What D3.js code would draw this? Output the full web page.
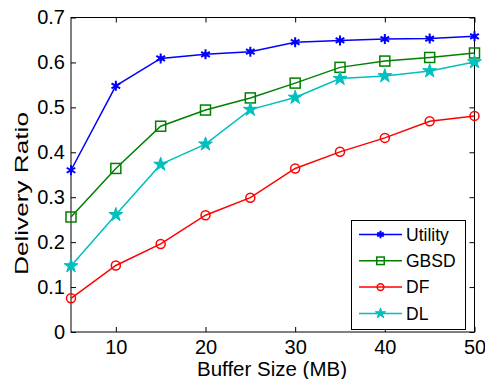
<!DOCTYPE html>
<html>
<head>
<meta charset="utf-8">
<script src="https://cdn.jsdelivr.net/npm/d3@7"></script>
<style>
  body { margin: 0; background: #fff; }
  svg { display: block; font-family: "Liberation Sans", Arial, sans-serif; }
</style>
</head>
<body>
<div id="chart"></div>
<script>
const bufferSizes = [5, 10, 15, 20, 25, 30, 35, 40, 45, 50];
const utility = [0.360, 0.548, 0.609, 0.618, 0.624, 0.645, 0.649, 0.652, 0.653, 0.658];
const gbsd    = [0.256, 0.364, 0.458, 0.494, 0.521, 0.554, 0.589, 0.603, 0.611, 0.621];
const df      = [0.075, 0.148, 0.196, 0.260, 0.299, 0.364, 0.401, 0.432, 0.469, 0.481];
const dl      = [0.147, 0.261, 0.373, 0.418, 0.495, 0.522, 0.564, 0.570, 0.581, 0.601];
const xTicks = [10, 20, 30, 40, 50];
const yTicks = [0, 0.1, 0.2, 0.3, 0.4, 0.5, 0.6, 0.7];

const series = [
  { name: 'Utility', values: utility, color: '#0000ff', marker: 'asterisk' },
  { name: 'GBSD', values: gbsd, color: '#008000', marker: 'square' },
  { name: 'DF', values: df, color: '#ff0000', marker: 'circle' },
  { name: 'DL', values: dl, color: '#00bfbf', marker: 'star' }
];

const width = 485, height = 379;
const margin = { top: 17.5, right: 10.5, bottom: 47, left: 71 };

const svg = d3.select('#chart').append('svg')
  .attr('width', width)
  .attr('height', height);

let x = d3.scaleLinear().domain([5, 50]).range([margin.left, width - margin.right]);
let y = d3.scaleLinear().domain([0, 0.7]).range([height - margin.bottom, margin.top]);

const x0 = x.range()[0], x1 = x.range()[1];
const y0 = y.range()[0], y1 = y.range()[1];

// axes, ticks pointing inwards, box on
svg.append('g')
  .attr('transform', `translate(0,${y0})`)
  .call(d3.axisBottom(x).tickValues(xTicks).tickSizeInner(-5).tickSizeOuter(0).tickPadding(8).tickFormat(d3.format('d')))
  .call(g => g.select('.domain').remove())
  .call(g => g.selectAll('text').attr('font-size', 20).attr('fill', '#000'));

svg.append('g')
  .attr('transform', `translate(0,${y1})`)
  .call(d3.axisTop(x).tickValues(xTicks).tickSizeInner(-5).tickSizeOuter(0).tickFormat(''))
  .call(g => g.select('.domain').remove());

svg.append('g')
  .attr('transform', `translate(${x0},0)`)
  .call(d3.axisLeft(y).tickValues(yTicks).tickSizeInner(-5).tickSizeOuter(0).tickPadding(6)
    .tickFormat(d => d === 0 ? '0' : d3.format('.1f')(d)))
  .call(g => g.select('.domain').remove())
  .call(g => g.selectAll('text').attr('font-size', 20).attr('fill', '#000'));

svg.append('g')
  .attr('transform', `translate(${x1},0)`)
  .call(d3.axisRight(y).tickValues(yTicks).tickSizeInner(-5).tickSizeOuter(0).tickFormat(''))
  .call(g => g.select('.domain').remove());

svg.append('rect')
  .attr('x', x0).attr('y', y1)
  .attr('width', x1 - x0).attr('height', y0 - y1)
  .attr('fill', 'none').attr('stroke', '#000').attr('stroke-width', 1);

// axis titles
svg.append('text')
  .attr('x', 272).attr('y', 376)
  .attr('text-anchor', 'middle').attr('font-size', 20)
  .attr('textLength', 150).attr('lengthAdjust', 'spacingAndGlyphs')
  .text('Buffer Size (MB)');

svg.append('text')
  .attr('transform', 'translate(28,193.5) rotate(-90)')
  .attr('text-anchor', 'middle').attr('font-size', 19)
  .attr('textLength', 163).attr('lengthAdjust', 'spacingAndGlyphs')
  .text('Delivery Ratio');

function drawMarker(g, type, color, cx, cy, scale) {
  const s = scale || 1;
  if (type === 'square') {
    g.append('rect')
      .attr('x', cx - 5 * s).attr('y', cy - 5 * s)
      .attr('width', 10 * s).attr('height', 10 * s)
      .attr('fill', 'none').attr('stroke', color).attr('stroke-width', 1.5);
  } else if (type === 'circle') {
    g.append('circle')
      .attr('cx', cx).attr('cy', cy).attr('r', 4.5 * s)
      .attr('fill', 'none').attr('stroke', color).attr('stroke-width', 1.5);
  } else if (type === 'star') {
    g.append('path')
      .attr('transform', `translate(${cx},${cy})`)
      .attr('d', d3.symbol(d3.symbolStar, 60 * s * s)())
      .attr('fill', color).attr('stroke', color).attr('stroke-width', 1);
  } else {
    g.append('path')
      .attr('transform', `translate(${cx},${cy})`)
      .attr('d', d3.symbol(d3.symbolAsterisk, 70 * s * s)())
      .attr('fill', 'none').attr('stroke', color).attr('stroke-width', 2);
    g.append('path')
      .attr('transform', `translate(${cx},${cy})`)
      .attr('d', d3.symbol(d3.symbolDiamond, 18 * s * s)())
      .attr('fill', color);
  }
}

const line = d3.line()
  .x((d, i) => x(bufferSizes[i]))
  .y(d => y(d));

series.forEach(s => {
  const g = svg.append('g');
  g.append('path')
    .attr('d', line(s.values))
    .attr('fill', 'none')
    .attr('stroke', s.color)
    .attr('stroke-width', 1.5);
  s.values.forEach((v, i) => drawMarker(g, s.marker, s.color, x(bufferSizes[i]), y(v)));
});

// legend
const legend = svg.append('g');
legend.append('rect')
  .attr('x', 351.5).attr('y', 220.5)
  .attr('width', 114).attr('height', 109)
  .attr('fill', '#fff').attr('stroke', '#000').attr('stroke-width', 1);

series.forEach((s, i) => {
  const ly = 234.5 + i * 26.3;
  legend.append('line')
    .attr('x1', 359).attr('x2', 402)
    .attr('y1', ly).attr('y2', ly)
    .attr('stroke', s.color).attr('stroke-width', 1.5);
  drawMarker(legend, s.marker, s.color, 380.5, ly, 0.75);
  legend.append('text')
    .attr('x', 406).attr('y', ly)
    .attr('dy', '0.35em')
    .attr('font-size', 17.5)
    .text(s.name);
});
</script>
</body>
</html>
